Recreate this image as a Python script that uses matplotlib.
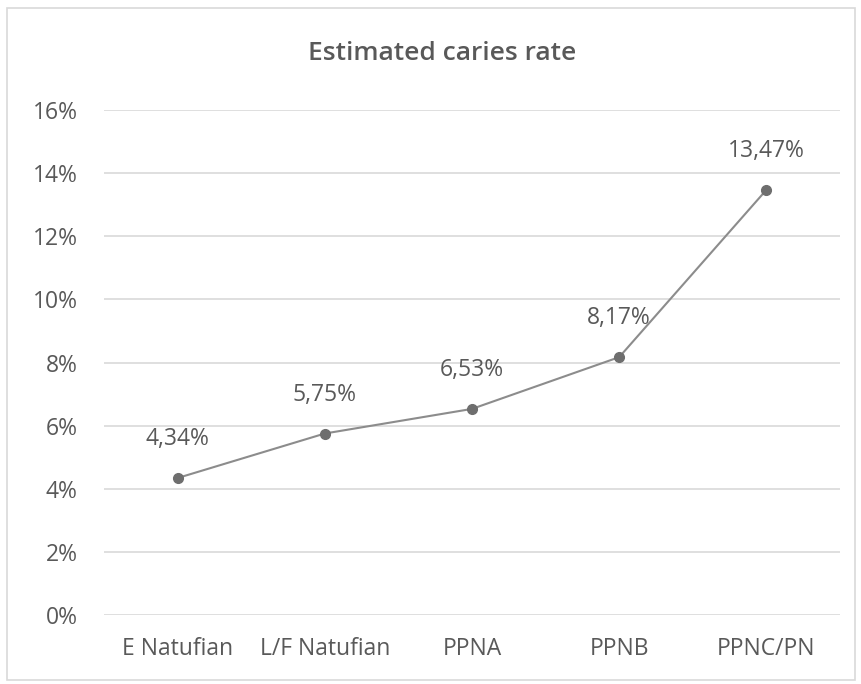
import matplotlib.pyplot as plt
from matplotlib.patches import Rectangle
from matplotlib.ticker import FuncFormatter

categories = ['E Natufian', 'L/F Natufian', 'PPNA', 'PPNB', 'PPNC/PN']
rates = [4.34, 5.75, 6.53, 8.17, 13.47]
yticks = [0, 2, 4, 6, 8, 10, 12, 14, 16]

plt.rcParams['font.family'] = ['Open Sans', 'DejaVu Sans']
text_col = '#595959'

W, H = 861, 684
fig = plt.figure(figsize=(W / 100, H / 100), dpi=100)
# plot area in pixel coords: x 104..840, y 110..615
ax = fig.add_axes([104 / W, 1 - 615 / H, (840 - 104) / W, (615 - 110) / H])

x = list(range(len(categories)))
ax.plot(x, rates, color='#8c8c8c', lw=1.5, marker='o', ms=7,
        mfc='#6e6e6e', mec='#6e6e6e', zorder=3)
for xi, v in zip(x, rates):
    lbl = f'{v:.2f}%'.replace('.', ',')
    ax.annotate(lbl, (xi, v), xytext=(0, 28), textcoords='offset points',
                ha='center', va='center', fontsize=16.5, color=text_col)

ax.set_xlim(-0.5, len(categories) - 0.5)
ax.set_ylim(0, 16)
ax.set_yticks(yticks)
ax.yaxis.set_major_formatter(FuncFormatter(lambda v, p: f'{v:.0f}%'))
ax.set_xticks(x)
ax.set_xticklabels(categories)
ax.grid(axis='y', color='#d9d9d9', lw=1.2)
ax.set_axisbelow(True)
for s in ax.spines.values():
    s.set_visible(False)
ax.tick_params(length=0, labelsize=16.5, colors=text_col)
ax.tick_params(axis='y', pad=19)
ax.tick_params(axis='x', pad=16)

fig.text(442 / W, 1 - 54 / H, 'Estimated caries rate', ha='center', va='center',
         fontsize=19, color=text_col, fontweight='semibold')

fig.patches.append(Rectangle((7 / W, 1 - 680 / H), (855 - 7) / W, (680 - 8) / H,
                             transform=fig.transFigure, fill=False,
                             edgecolor='#d9d9d9', lw=1.2))

fig.savefig('out.png', dpi=100)
